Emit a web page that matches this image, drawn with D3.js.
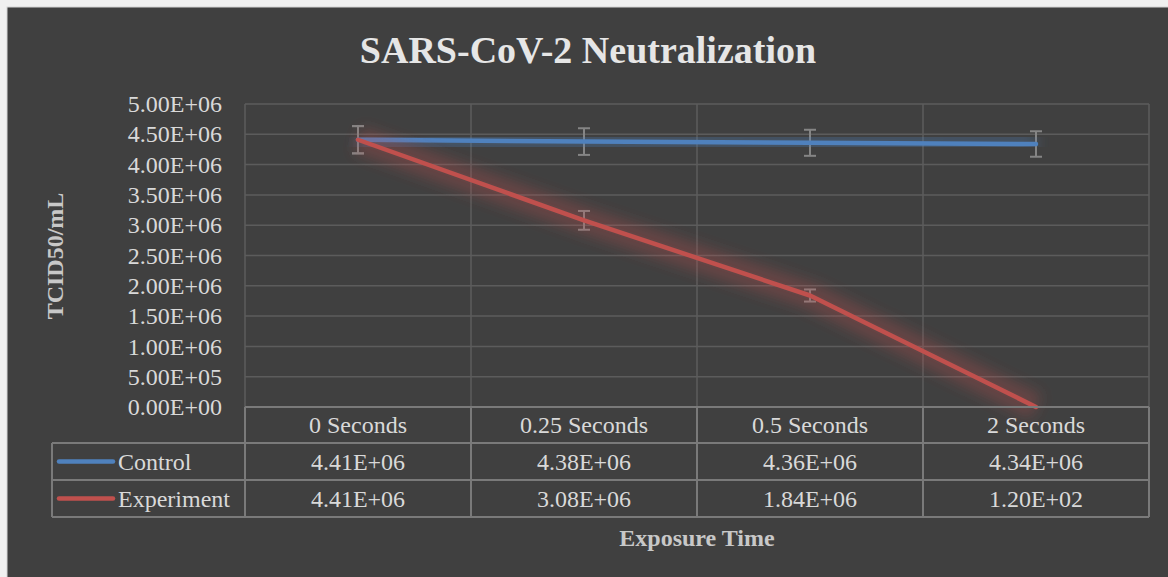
<!DOCTYPE html>
<html>

<head>
    <meta charset="utf-8">
    <title>SARS-CoV-2 Neutralization</title>
    <style>
    body {
        margin: 0;
        background: #f0f0f0;
    }

    svg text {
        font-family: "Liberation Serif", serif;
        fill: #d9d9d9;
    }
    </style>
</head>

<body>
    <script src='https://d3js.org/d3.v7.min.js'></script>
    <script>
    // data
    var categories = ["0 Seconds", "0.25 Seconds", "0.5 Seconds", "2 Seconds"];
    var seriesNames = ["Control", "Experiment"];
    var controlValues = [4.41e6, 4.38e6, 4.36e6, 4.34e6];
    var experimentValues = [4.41e6, 3.08e6, 1.84e6, 1.20e2];
    // error bar half heights (estimated)
    var controlErrors = [2.25e5, 2.2e5, 2.15e5, 2.1e5];
    var experimentErrors = [2.25e5, 1.55e5, 1.0e5, 0];
    var yTicks = [0, 5e5, 1e6, 1.5e6, 2e6, 2.5e6, 3e6, 3.5e6, 4e6, 4.5e6, 5e6];
    var colors = ["#4f81bd", "#c0504d"];

    var series = [
        { name: seriesNames[0], values: controlValues, errors: controlErrors, color: colors[0] },
        { name: seriesNames[1], values: experimentValues, errors: experimentErrors, color: colors[1] }
    ];

    // 4.41E+06 style like excel
    function fmtE(v) {
        var s = v.toExponential(2).toUpperCase();
        var parts = s.split("E");
        var sign = parts[1][0];
        var exp = parts[1].slice(1);
        if (exp.length < 2) exp = "0" + exp;
        return parts[0] + "E" + sign + exp;
    }

    var width = 1168, height = 577;
    var plotLeft = 245, plotRight = 1149, plotTop = 104, plotBottom = 407;
    var legendLeft = 52;
    var rowLines = [407, 443, 480, 517]; // table row borders

    var svg = d3.select("body")
        .append("svg")
        .attr("width", width)
        .attr("height", height)
        .style("display", "block");

    var defs = svg.append("defs");
    defs.append("filter")
        .attr("id", "glow")
        .attr("x", "-20%").attr("y", "-50%")
        .attr("width", "140%").attr("height", "200%")
        .append("feGaussianBlur")
        .attr("stdDeviation", 7);

    // chart background
    svg.append("rect")
        .attr("x", 7)
        .attr("y", 7)
        .attr("width", width)
        .attr("height", height)
        .attr("fill", "#404040")
        .attr("stroke", "#d4d4d4")
        .attr("stroke-width", 1);

    var x = d3.scaleBand()
        .domain(categories)
        .range([plotLeft, plotRight])
        .padding(0);

    var y = d3.scaleLinear()
        .domain([0, 5e6])
        .range([plotBottom, plotTop]);

    // horizontal gridlines
    svg.append("g")
        .selectAll("line")
        .data(yTicks)
        .enter()
        .append("line")
        .attr("x1", plotLeft)
        .attr("x2", plotRight)
        .attr("y1", function(d) { return y(d); })
        .attr("y2", function(d) { return y(d); })
        .attr("stroke", "#5c5c5c")
        .attr("stroke-width", 1.5);

    // vertical gridlines on category borders
    var borders = categories.map(function(c) { return x(c); }).concat([plotRight]);
    svg.append("g")
        .selectAll("line")
        .data(borders)
        .enter()
        .append("line")
        .attr("x1", function(d) { return d; })
        .attr("x2", function(d) { return d; })
        .attr("y1", plotTop)
        .attr("y2", plotBottom)
        .attr("stroke", "#5c5c5c")
        .attr("stroke-width", 1.5);

    // y axis labels
    var yAxis = svg.append("g")
        .attr("transform", "translate(" + plotLeft + ",0)")
        .call(d3.axisLeft(y).tickValues(yTicks).tickFormat(fmtE).tickSize(0).tickPadding(23));
    yAxis.select(".domain").remove();
    yAxis.selectAll("text")
        .attr("font-family", "Liberation Serif")
        .style("font-size", "24px")
        .style("fill", "#d9d9d9");

    function cx(i) { return x(categories[i]) + x.bandwidth() / 2; }

    var line = d3.line()
        .x(function(d, i) { return cx(i); })
        .y(function(d) { return y(d); });

    // error bars (under the lines)
    series.forEach(function(s) {
        var g = svg.append("g")
            .attr("stroke", "#858585")
            .attr("stroke-width", 2);
        s.values.forEach(function(v, i) {
            var e = s.errors[i];
            if (!(e > 0)) return;
            var xi = cx(i);
            g.append("line").attr("x1", xi).attr("x2", xi).attr("y1", y(v + e)).attr("y2", y(v - e));
            g.append("line").attr("x1", xi - 6).attr("x2", xi + 6).attr("y1", y(v + e)).attr("y2", y(v + e));
            g.append("line").attr("x1", xi - 6).attr("x2", xi + 6).attr("y1", y(v - e)).attr("y2", y(v - e));
        });
    });

    // lines with soft glow
    series.forEach(function(s) {
        svg.append("path")
            .datum(s.values)
            .attr("d", line)
            .attr("fill", "none")
            .attr("stroke", s.color)
            .attr("stroke-width", 26)
            .attr("stroke-opacity", 0.3)
            .attr("stroke-linejoin", "round")
            .attr("filter", "url(#glow)");
        svg.append("path")
            .datum(s.values)
            .attr("d", line)
            .attr("fill", "none")
            .attr("stroke", s.color)
            .attr("stroke-width", 4.5)
            .attr("stroke-linejoin", "round")
            .attr("stroke-linecap", "round");
    });

    // data table
    var tbl = svg.append("g")
        .attr("stroke", "#7a7a7a")
        .attr("stroke-width", 2);
    tbl.append("line").attr("x1", plotLeft).attr("x2", plotRight).attr("y1", rowLines[0]).attr("y2", rowLines[0]);
    rowLines.slice(1).forEach(function(r) {
        tbl.append("line").attr("x1", legendLeft).attr("x2", plotRight).attr("y1", r).attr("y2", r);
    });
    tbl.append("line").attr("x1", legendLeft).attr("x2", legendLeft).attr("y1", rowLines[1]).attr("y2", rowLines[3]);
    borders.forEach(function(b) {
        tbl.append("line").attr("x1", b).attr("x2", b).attr("y1", rowLines[0]).attr("y2", rowLines[3]);
    });

    // header row
    svg.append("g")
        .selectAll("text")
        .data(categories)
        .enter()
        .append("text")
        .attr("x", function(d, i) { return cx(i); })
        .attr("y", (rowLines[0] + rowLines[1]) / 2)
        .attr("dy", "0.35em")
        .attr("text-anchor", "middle")
        .style("font-size", "24px")
        .text(function(d) { return d; });

    // series rows
    series.forEach(function(s, k) {
        var mid = (rowLines[k + 1] + rowLines[k + 2]) / 2;
        svg.append("line")
            .attr("x1", legendLeft + 7)
            .attr("x2", legendLeft + 61)
            .attr("y1", mid)
            .attr("y2", mid)
            .attr("stroke", s.color)
            .attr("stroke-width", 4.5)
            .attr("stroke-linecap", "round");
        svg.append("text")
            .attr("x", legendLeft + 66)
            .attr("y", mid)
            .attr("dy", "0.35em")
            .style("font-size", "24px")
            .text(s.name);
        svg.append("g")
            .selectAll("text")
            .data(s.values)
            .enter()
            .append("text")
            .attr("x", function(d, i) { return cx(i); })
            .attr("y", mid)
            .attr("dy", "0.35em")
            .attr("text-anchor", "middle")
            .style("font-size", "24px")
            .text(function(d) { return fmtE(d); });
    });

    // titles
    svg.append("text")
        .attr("x", 588)
        .attr("y", 63)
        .attr("text-anchor", "middle")
        .style("font-size", "38px")
        .style("font-weight", "bold")
        .style("fill", "#e6e6e6")
        .text("SARS-CoV-2 Neutralization");

    svg.append("text")
        .attr("transform", "translate(63,256) rotate(-90)")
        .attr("text-anchor", "middle")
        .style("font-size", "24px")
        .style("font-weight", "bold")
        .style("fill", "#c8c8c8")
        .text("TCID50/mL");

    svg.append("text")
        .attr("x", (plotLeft + plotRight) / 2)
        .attr("y", 546)
        .attr("text-anchor", "middle")
        .style("font-size", "24px")
        .style("font-weight", "bold")
        .style("fill", "#c8c8c8")
        .text("Exposure Time");
    </script>
</body>

</html>
